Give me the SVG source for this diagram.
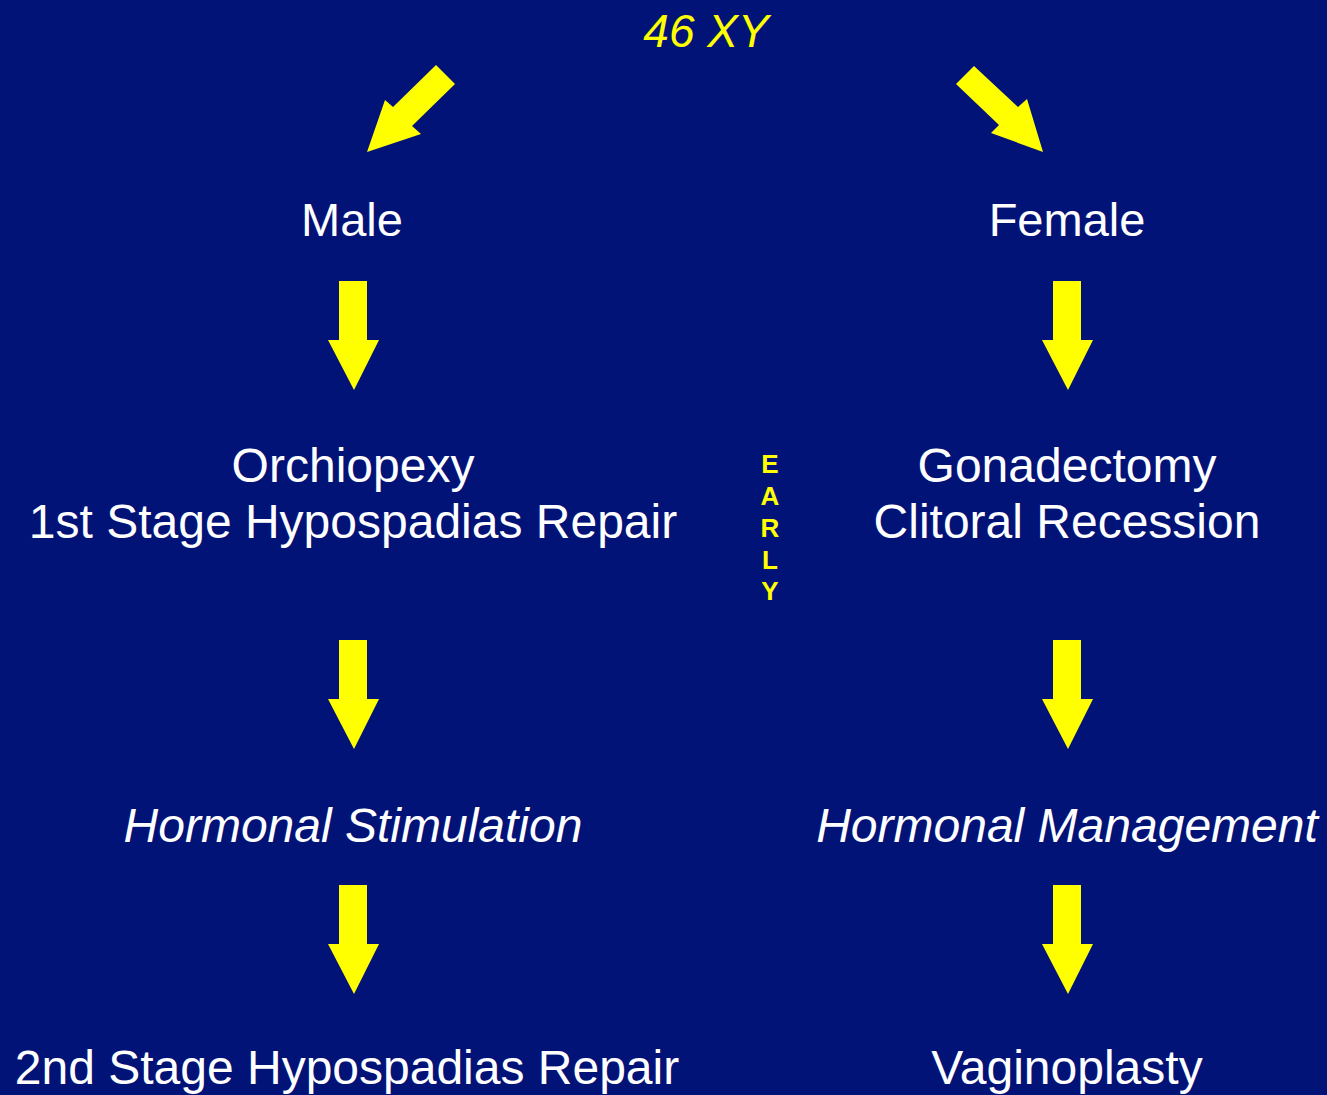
<svg xmlns="http://www.w3.org/2000/svg" width="1327" height="1095" viewBox="0 0 1327 1095">
<style>
.t{font-family:"Liberation Sans",Arial,sans-serif;font-size:48px;fill:#FFFFFF;text-anchor:middle}
.i{font-style:italic}
.y{fill:#FFFF00}
.e{font-family:"Liberation Sans",Arial,sans-serif;font-size:26px;font-weight:bold;fill:#FFFF00;text-anchor:middle}
.a{fill:#FFFF00}
</style>
<defs>
<polygon id="down" points="-15,0 13,0 13,59 25,59 0,109 -26,59 -15,59"/>
</defs>
<rect x="0" y="0" width="1327" height="1095" fill="#021378"/>
<g id="root"><text class="t i y" x="706" y="47" style="font-size:46px">46 XY</text></g>
<g id="male"><text class="t" x="352" y="236" style="font-size:47px">Male</text></g>
<g id="female"><text class="t" x="1067" y="236" style="font-size:47px">Female</text></g>
<g id="male-surgery"><text class="t" x="353" y="482">Orchiopexy</text><text class="t" x="353" y="538">1st Stage Hypospadias Repair</text></g>
<g id="female-surgery"><text class="t" x="1067" y="482">Gonadectomy</text><text class="t" x="1067" y="538">Clitoral Recession</text></g>
<g id="early"><text class="e" x="770" y="473">E</text><text class="e" x="770" y="505">A</text><text class="e" x="770" y="537">R</text><text class="e" x="770" y="569">L</text><text class="e" x="770" y="600">Y</text></g>
<g id="male-hormonal"><text class="t i" x="353" y="842">Hormonal Stimulation</text></g>
<g id="female-hormonal"><text class="t i" x="1067" y="842">Hormonal Management</text></g>
<g id="male-final"><text class="t" x="347" y="1084">2nd Stage Hypospadias Repair</text></g>
<g id="female-final"><text class="t" x="1067" y="1084">Vaginoplasty</text></g>
<g id="connectors" class="a">
<polygon points="436,65 455,84 412,126 421,134 367,152 385,100 393,107"/>
<polygon points="974,66 1018,107 1027,99 1043,152 991,133 999,125 956,84"/>
<use href="#down" x="354" y="281"/>
<use href="#down" x="354" y="640"/>
<use href="#down" x="354" y="885"/>
<use href="#down" x="1068" y="281"/>
<use href="#down" x="1068" y="640"/>
<use href="#down" x="1068" y="885"/>
</g>
</svg>
